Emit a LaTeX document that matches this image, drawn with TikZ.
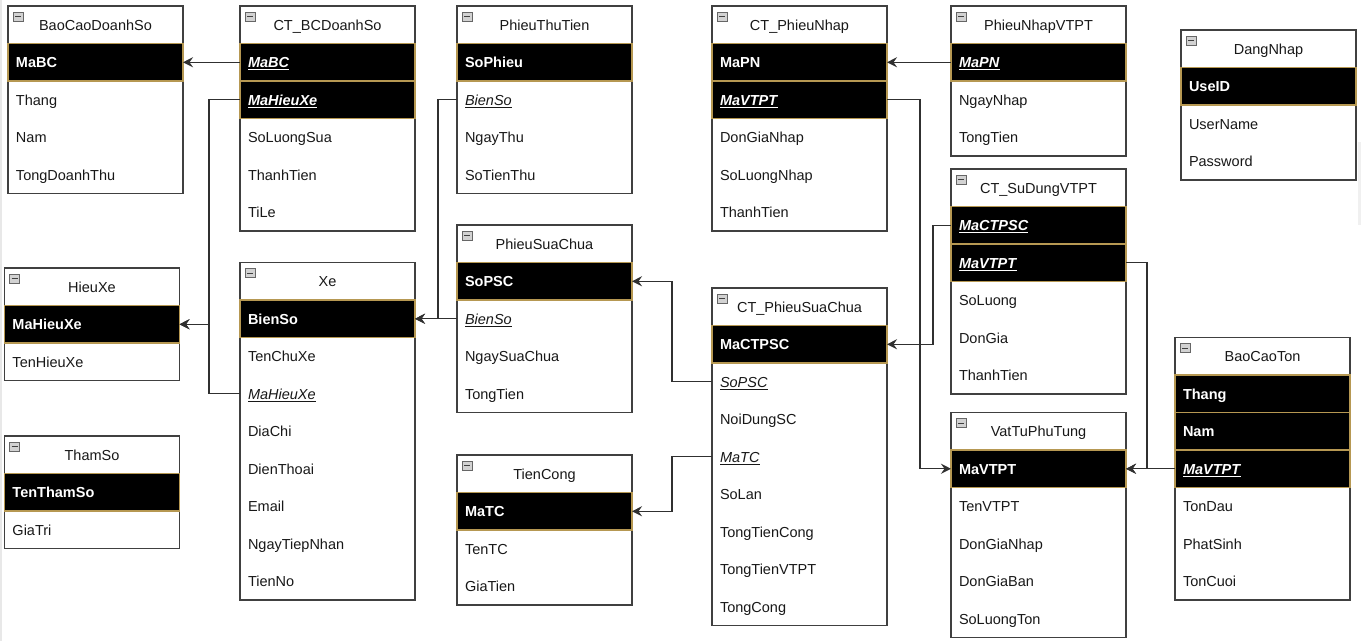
\documentclass[tikz,border=0pt]{standalone}
\usepackage{fontspec}
\setmainfont{Liberation Sans}
\usetikzlibrary{positioning,arrows.meta,backgrounds}

\definecolor{keygold}{RGB}{182,152,82}
\definecolor{framegray}{RGB}{64,64,64}
\definecolor{txtgray}{RGB}{24,24,24}
\definecolor{linkgray}{RGB}{48,48,48}

\tikzset{
  tbltitle/.style={anchor=north west, minimum width=175pt, minimum height=37.5pt,
    inner sep=0pt, outer sep=0pt, text=txtgray, text height=12pt, text depth=1pt,
    path picture={
      \draw[gray!80!black, fill=gray!35, line width=0.6pt]
        ([xshift=5pt,yshift=-6pt]path picture bounding box.north west) rectangle ++(10pt,-9pt);
      \draw[black!75, line width=1pt]
        ([xshift=7pt,yshift=-10.5pt]path picture bounding box.north west) -- ++(6pt,0pt);
    }},
  keyrow/.style={draw=keygold, line width=1.2pt, fill=black, text=white, font=\bfseries,
    text width=159pt, align=left, minimum height=37.5pt, inner xsep=8pt, inner ysep=0pt,
    outer sep=0pt, text height=12pt, text depth=1pt},
  attrrow/.style={text=txtgray, text width=159pt, align=left, minimum height=37.5pt,
    inner xsep=8pt, inner ysep=0pt, outer sep=0pt, text height=12pt, text depth=1pt},
  tblframe/.style={draw=framegray, line width=1.3pt},
  link/.style={draw=linkgray, line width=1.2pt, -{Stealth[length=10pt,width=10pt,inset=3.5pt]}}
}

\begin{document}
\begin{tikzpicture}[x=1pt,y=-1pt]
\fontsize{14.5}{17}\selectfont
\useasboundingbox (0,0) rectangle (1361,641);

\node[tbltitle] (bcds) at (8,6) {BaoCaoDoanhSo};
\node[keyrow, below=0pt of bcds] (bcds-mabc) {MaBC};
\node[attrrow, below=0pt of bcds-mabc] (bcds-thang) {Thang};
\node[attrrow, below=0pt of bcds-thang] (bcds-nam) {Nam};
\node[attrrow, below=0pt of bcds-nam] (bcds-tong) {TongDoanhThu};

\node[tbltitle] (ctbc) at (240,6) {CT\_BCDoanhSo};
\node[keyrow, below=0pt of ctbc] (ctbc-mabc) {\underline{\textit{MaBC}}};
\node[keyrow, below=0pt of ctbc-mabc] (ctbc-mahieuxe) {\underline{\textit{MaHieuXe}}};
\node[attrrow, below=0pt of ctbc-mahieuxe] (ctbc-sl) {SoLuongSua};
\node[attrrow, below=0pt of ctbc-sl] (ctbc-tt) {ThanhTien};
\node[attrrow, below=0pt of ctbc-tt] (ctbc-tile) {TiLe};

\node[tbltitle] (ptt) at (457,6) {PhieuThuTien};
\node[keyrow, below=0pt of ptt] (ptt-sophieu) {SoPhieu};
\node[attrrow, below=0pt of ptt-sophieu] (ptt-bienso) {\underline{\textit{BienSo}}};
\node[attrrow, below=0pt of ptt-bienso] (ptt-ngay) {NgayThu};
\node[attrrow, below=0pt of ptt-ngay] (ptt-sotien) {SoTienThu};

\node[tbltitle] (ctpn) at (712,6) {CT\_PhieuNhap};
\node[keyrow, below=0pt of ctpn] (ctpn-mapn) {MaPN};
\node[keyrow, below=0pt of ctpn-mapn] (ctpn-mavtpt) {\underline{\textit{MaVTPT}}};
\node[attrrow, below=0pt of ctpn-mavtpt] (ctpn-dgn) {DonGiaNhap};
\node[attrrow, below=0pt of ctpn-dgn] (ctpn-sln) {SoLuongNhap};
\node[attrrow, below=0pt of ctpn-sln] (ctpn-tt) {ThanhTien};

\node[tbltitle] (pnv) at (951,6) {PhieuNhapVTPT};
\node[keyrow, below=0pt of pnv] (pnv-mapn) {\underline{\textit{MaPN}}};
\node[attrrow, below=0pt of pnv-mapn] (pnv-ngay) {NgayNhap};
\node[attrrow, below=0pt of pnv-ngay] (pnv-tong) {TongTien};

\node[tbltitle] (dn) at (1181,30) {DangNhap};
\node[keyrow, below=0pt of dn] (dn-useid) {UseID};
\node[attrrow, below=0pt of dn-useid] (dn-user) {UserName};
\node[attrrow, below=0pt of dn-user] (dn-pass) {Password};

\node[tbltitle] (hx) at (4.5,268) {HieuXe};
\node[keyrow, below=0pt of hx] (hx-mahieuxe) {MaHieuXe};
\node[attrrow, below=0pt of hx-mahieuxe] (hx-ten) {TenHieuXe};

\node[tbltitle] (ts) at (4.5,436) {ThamSo};
\node[keyrow, below=0pt of ts] (ts-ten) {TenThamSo};
\node[attrrow, below=0pt of ts-ten] (ts-gt) {GiaTri};

\node[tbltitle] (xe) at (240,262.5) {Xe};
\node[keyrow, below=0pt of xe] (xe-bienso) {BienSo};
\node[attrrow, below=0pt of xe-bienso] (xe-tenchu) {TenChuXe};
\node[attrrow, below=0pt of xe-tenchu] (xe-mahieuxe) {\underline{\textit{MaHieuXe}}};
\node[attrrow, below=0pt of xe-mahieuxe] (xe-diachi) {DiaChi};
\node[attrrow, below=0pt of xe-diachi] (xe-dt) {DienThoai};
\node[attrrow, below=0pt of xe-dt] (xe-email) {Email};
\node[attrrow, below=0pt of xe-email] (xe-ngay) {NgayTiepNhan};
\node[attrrow, below=0pt of xe-ngay] (xe-tienno) {TienNo};

\node[tbltitle] (psc) at (457,225) {PhieuSuaChua};
\node[keyrow, below=0pt of psc] (psc-sopsc) {SoPSC};
\node[attrrow, below=0pt of psc-sopsc] (psc-bienso) {\underline{\textit{BienSo}}};
\node[attrrow, below=0pt of psc-bienso] (psc-ngay) {NgaySuaChua};
\node[attrrow, below=0pt of psc-ngay] (psc-tong) {TongTien};

\node[tbltitle] (tc) at (457,455) {TienCong};
\node[keyrow, below=0pt of tc] (tc-matc) {MaTC};
\node[attrrow, below=0pt of tc-matc] (tc-ten) {TenTC};
\node[attrrow, below=0pt of tc-ten] (tc-gia) {GiaTien};

\node[tbltitle] (ctpsc) at (712,288) {CT\_PhieuSuaChua};
\node[keyrow, below=0pt of ctpsc] (ctpsc-mactpsc) {MaCTPSC};
\node[attrrow, below=0pt of ctpsc-mactpsc] (ctpsc-sopsc) {\underline{\textit{SoPSC}}};
\node[attrrow, below=0pt of ctpsc-sopsc] (ctpsc-nd) {NoiDungSC};
\node[attrrow, below=0pt of ctpsc-nd] (ctpsc-matc) {\underline{\textit{MaTC}}};
\node[attrrow, below=0pt of ctpsc-matc] (ctpsc-solan) {SoLan};
\node[attrrow, below=0pt of ctpsc-solan] (ctpsc-ttc) {TongTienCong};
\node[attrrow, below=0pt of ctpsc-ttc] (ctpsc-ttv) {TongTienVTPT};
\node[attrrow, below=0pt of ctpsc-ttv] (ctpsc-tc) {TongCong};

\node[tbltitle] (ctsd) at (951,169) {CT\_SuDungVTPT};
\node[keyrow, below=0pt of ctsd] (ctsd-mactpsc) {\underline{\textit{MaCTPSC}}};
\node[keyrow, below=0pt of ctsd-mactpsc] (ctsd-mavtpt) {\underline{\textit{MaVTPT}}};
\node[attrrow, below=0pt of ctsd-mavtpt] (ctsd-sl) {SoLuong};
\node[attrrow, below=0pt of ctsd-sl] (ctsd-dg) {DonGia};
\node[attrrow, below=0pt of ctsd-dg] (ctsd-tt) {ThanhTien};

\node[tbltitle] (vt) at (951,412.5) {VatTuPhuTung};
\node[keyrow, below=0pt of vt] (vt-mavtpt) {MaVTPT};
\node[attrrow, below=0pt of vt-mavtpt] (vt-ten) {TenVTPT};
\node[attrrow, below=0pt of vt-ten] (vt-dgn) {DonGiaNhap};
\node[attrrow, below=0pt of vt-dgn] (vt-dgb) {DonGiaBan};
\node[attrrow, below=0pt of vt-dgb] (vt-slt) {SoLuongTon};

\node[tbltitle] (bct) at (1175,337.5) {BaoCaoTon};
\node[keyrow, below=0pt of bct] (bct-thang) {Thang};
\node[keyrow, below=0pt of bct-thang] (bct-nam) {Nam};
\node[keyrow, below=0pt of bct-nam] (bct-mavtpt) {\underline{\textit{MaVTPT}}};
\node[attrrow, below=0pt of bct-mavtpt] (bct-tondau) {TonDau};
\node[attrrow, below=0pt of bct-tondau] (bct-ps) {PhatSinh};
\node[attrrow, below=0pt of bct-ps] (bct-toncuoi) {TonCuoi};

\begin{scope}[on background layer]
\fill[white] (0,0) rectangle (1361,641);
\fill[gray!18] (0,0) rectangle (2,641);
\fill[gray!12] (1358,142) rectangle (1360.5,225);
\foreach \t/\b in {bcds/bcds-tong, ctbc/ctbc-tile, ptt/ptt-sotien, ctpn/ctpn-tt,
    pnv/pnv-tong, dn/dn-pass, hx/hx-ten, ts/ts-gt, xe/xe-tienno, psc/psc-tong,
    tc/tc-gia, ctpsc/ctpsc-tc, ctsd/ctsd-tt, vt/vt-slt, bct/bct-toncuoi}
  \path[tblframe] (\t.north west) rectangle (\b.south east);
\end{scope}

\path[link] (ctbc-mabc.west) -- (bcds-mabc.east);
\path[link] (ctbc-mahieuxe.west) -- ++(-31,0) |- (hx-mahieuxe.east);
\path[link] (xe-mahieuxe.west) -- ++(-31,0) |- (hx-mahieuxe.east);
\path[link] (ptt-bienso.west) -- ++(-19,0) |- (xe-bienso.east);
\path[link] (psc-bienso.west) -- (xe-bienso.east);
\path[link] (ctpsc-sopsc.west) -- ++(-40,0) |- (psc-sopsc.east);
\path[link] (ctpsc-matc.west) -- ++(-40,0) |- (tc-matc.east);
\path[link] (pnv-mapn.west) -- (ctpn-mapn.east);
\path[link] (ctpn-mavtpt.east) -- ++(33,0) |- (vt-mavtpt.west);
\path[link] (ctsd-mactpsc.west) -- ++(-18,0) |- (ctpsc-mactpsc.east);
\path[link] (ctsd-mavtpt.east) -- ++(21,0) |- (vt-mavtpt.east);
\path[link] (bct-mavtpt.west) -- (vt-mavtpt.east);
\end{tikzpicture}
\end{document}
